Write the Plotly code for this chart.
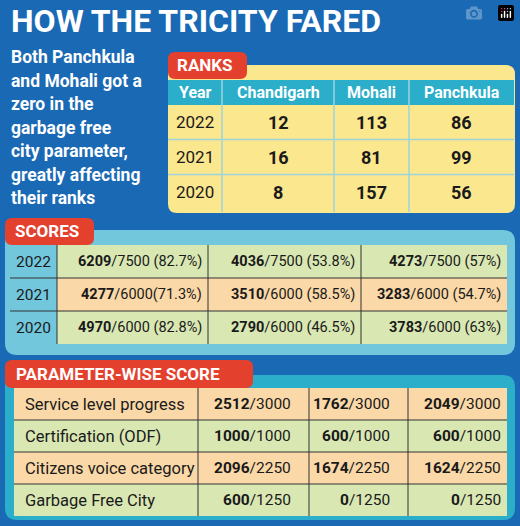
import plotly.graph_objects as go

W, H = 520, 526
BLUE = "#1a69b4"
RED = "#e4402e"
YELLOW = "#fbe78e"
TEAL = "#2aaec9"
LBLUE = "#72c7dd"
GREEN = "#d9e7b3"
PEACH = "#fad8a7"
INK = "#1a1a1a"
FONT = "Roboto"

TITLE = "HOW THE TRICITY FARED"
BLURB = ["Both Panchkula", "and Mohali got a", "zero in the", "garbage free",
         "city parameter,", "greatly affecting", "their ranks"]

cities = ["Chandigarh", "Mohali", "Panchkula"]
rank_years = ["2022", "2021", "2020"]
ranks = [[12, 113, 86], [16, 81, 99], [8, 157, 56]]

score_years = ["2022", "2021", "2020"]
score_vals = [[6209, 4036, 4273], [4277, 3510, 3283], [4970, 2790, 3783]]
score_max = [7500, 6000, 6000]
score_pct = [["82.7%", "53.8%", "57%"], ["71.3%", "58.5%", "54.7%"], ["82.8%", "46.5%", "63%"]]

params = ["Service level progress", "Certification (ODF)", "Citizens voice category", "Garbage Free City"]
param_vals = [[2512, 1762, 2049], [1000, 600, 600], [2096, 1674, 1624], [600, 0, 0]]
param_max = [3000, 1000, 2250, 1250]

fig = go.Figure()
shapes, ann = [], []


def rect(x0, y0, x1, y1, color, line=None):
    shapes.append(dict(type="rect", x0=x0, y0=y0, x1=x1, y1=y1, fillcolor=color,
                       line=dict(width=0) if line is None else line, layer="below"))


def rrect(x0, y0, x1, y1, r, color):
    path = (f"M{x0+r},{y0} L{x1-r},{y0} Q{x1},{y0} {x1},{y0+r} L{x1},{y1-r} Q{x1},{y1} {x1-r},{y1} "
            f"L{x0+r},{y1} Q{x0},{y1} {x0},{y1-r} L{x0},{y0+r} Q{x0},{y0} {x0+r},{y0} Z")
    shapes.append(dict(type="path", path=path, fillcolor=color, line=dict(width=0), layer="below"))


def vline(x, y0, y1, color, w=1.5):
    shapes.append(dict(type="line", x0=x, x1=x, y0=y0, y1=y1, line=dict(color=color, width=w)))


def hline(y, x0, x1, color, w=1.5):
    shapes.append(dict(type="line", x0=x0, x1=x1, y0=y, y1=y, line=dict(color=color, width=w)))


def text(x, y, s, size, color=INK, anchor="center"):
    ann.append(dict(x=x, y=y, text=s, showarrow=False, xanchor=anchor, yanchor="middle",
                    font=dict(family=FONT, size=size, color=color)))


rect(0, 0, W, H, BLUE)
text(9, 21, f"<b>{TITLE}</b>", 32, "white", "left")
for i, line in enumerate(BLURB):
    text(9, 57 + i * 23.5, f"<b>{line}</b>", 17.5, "white", "left")

# ranks
rrect(168, 65, 515, 213, 9, YELLOW)
rrect(168, 52, 247, 79, 7, RED)
text(175, 65, "<b>RANKS</b>", 17, "white", "left")
rect(168, 80, 514, 105, TEAL)
cx = [168, 222, 334, 409, 514]
text(195, 92, "<b>Year</b>", 16, "white")
for j, c in enumerate(cities):
    text((cx[j + 1] + cx[j + 2]) / 2, 92, f"<b>{c}</b>", 16, "white")
for x in cx[1:4]:
    vline(x, 80, 212, "#9fd3dc")
for i, yr in enumerate(rank_years):
    yc = 122 + i * 35
    if i > 0:
        hline(yc - 17.5, 168, 514, "#9fd3dc")
    text(195, yc, yr, 17)
    for j in range(3):
        text((cx[j + 1] + cx[j + 2]) / 2, yc, f"<b>{ranks[i][j]}</b>", 18)

# scores
rrect(5, 230, 515, 355, 12, LBLUE)
rrect(5, 218, 94, 245, 7, RED)
text(13, 231, "<b>SCORES</b>", 17, "white", "left")
sx = [57, 208, 361, 507]
for i, yr in enumerate(score_years):
    y0 = 245 + i * 33
    rect(57, y0, 507, y0 + 33, GREEN if i != 1 else PEACH)
    text(33, y0 + 16.5, yr, 15.5)
    for j in range(3):
        sep = "" if (i == 1 and j == 0) else " "
        s = f"<b>{score_vals[i][j]}</b>/{score_max[i]}{sep}({score_pct[i][j]})"
        text(sx[j + 1] - 4, y0 + 16.5, s, 14.5, anchor="right")
    if i > 0:
        hline(y0, 10, 507, "#333333", 1)
for x in sx[:3]:
    vline(x, 245, 344, "#333333", 1)

# parameter-wise
rrect(5, 375, 515, 520, 12, TEAL)
rrect(5, 360, 253, 388, 7, RED)
text(14, 374, "<b>PARAMETER-WISE SCORE</b>", 17, "white", "left")
px_ = [14, 198, 309, 408, 507]
for i, p in enumerate(params):
    y0 = 388 + i * 32
    rect(14, y0, 507, y0 + 32, PEACH if i % 2 == 0 else GREEN)
    text(23, y0 + 16, p, 16.5, anchor="left")
    for j in range(3):
        text(px_[j + 2] - 16 if j < 2 else px_[j + 2] - 4, y0 + 16,
             f"<b>{param_vals[i][j]}</b>/{param_max[i]}", 15.5, anchor="right")
    if i > 0:
        hline(y0, 14, 507, "#333333", 1)
for x in px_[1:4]:
    vline(x, 388, 516, "#333333", 1)

fig.update_layout(width=W, height=H, margin=dict(l=0, r=0, t=0, b=0),
                  paper_bgcolor=BLUE, plot_bgcolor=BLUE, showlegend=False,
                  shapes=shapes, annotations=ann,
                  xaxis=dict(range=[0, W], visible=False, fixedrange=True),
                  yaxis=dict(range=[H, 0], visible=False, fixedrange=True))
fig.write_html("out.html", post_script="document.body.style.margin='0';")
